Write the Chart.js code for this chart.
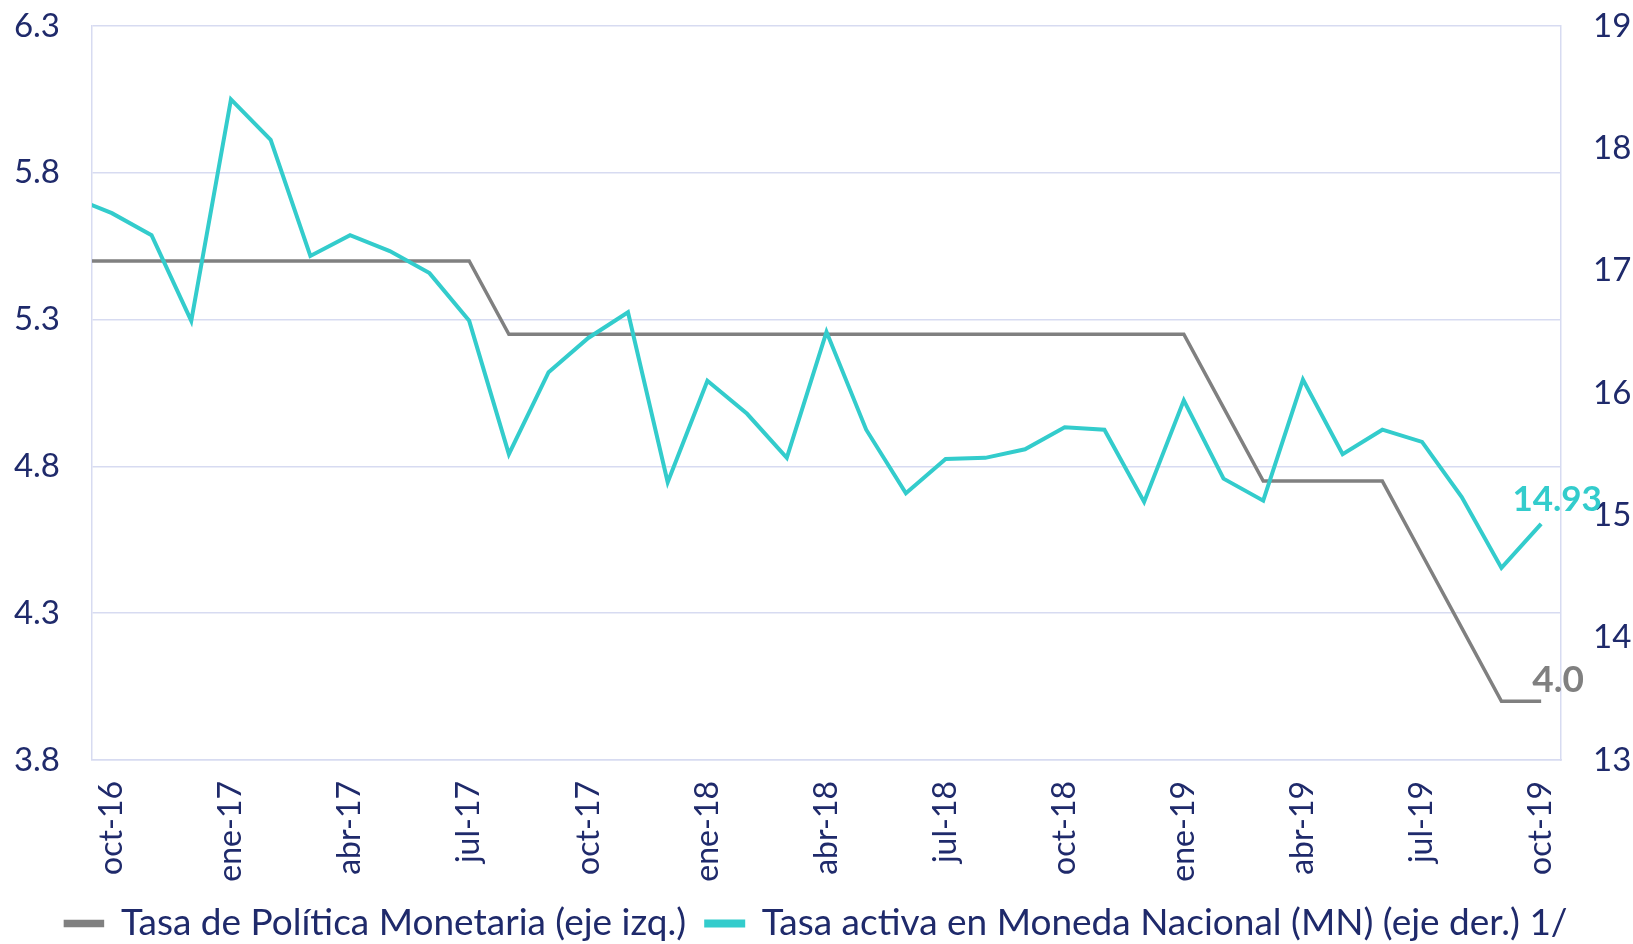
<!DOCTYPE html>
<html>
<head>
<meta charset="utf-8">
<script src="https://cdn.jsdelivr.net/npm/chart.js@4/dist/chart.umd.min.js"></script>
<style>
  html, body { margin: 0; padding: 0; background: #ffffff; }
  #wrap { width: 1633px; height: 944px; position: relative; }
</style>
</head>
<body>
<div id="wrap"><canvas id="tasasChart"></canvas></div>
<script>
(() => {
  "use strict";

  // sep-16 sits just left of the visible range so the lines reach the left edge
  const months = [
    "sep-16", "oct-16", "nov-16", "dic-16",
    "ene-17", "feb-17", "mar-17", "abr-17", "may-17", "jun-17",
    "jul-17", "ago-17", "sep-17", "oct-17", "nov-17", "dic-17",
    "ene-18", "feb-18", "mar-18", "abr-18", "may-18", "jun-18",
    "jul-18", "ago-18", "sep-18", "oct-18", "nov-18", "dic-18",
    "ene-19", "feb-19", "mar-19", "abr-19", "may-19", "jun-19",
    "jul-19", "ago-19", "sep-19", "oct-19"
  ];

  const tasaPolitica = [
    5.5, 5.5, 5.5, 5.5,
    5.5, 5.5, 5.5, 5.5, 5.5, 5.5,
    5.5, 5.25, 5.25, 5.25, 5.25, 5.25,
    5.25, 5.25, 5.25, 5.25, 5.25, 5.25,
    5.25, 5.25, 5.25, 5.25, 5.25, 5.25,
    5.25, 5.0, 4.75, 4.75, 4.75, 4.75,
    4.5, 4.25, 4.0, 4.0
  ];

  const tasaActivaMN = [
    17.60, 17.47, 17.29, 16.59,
    18.40, 18.07, 17.12, 17.29, 17.16, 16.98,
    16.59, 15.50, 16.17, 16.45, 16.66, 15.27,
    16.10, 15.83, 15.47, 16.50, 15.70, 15.18,
    15.46, 15.47, 15.54, 15.72, 15.70, 15.11,
    15.94, 15.30, 15.12, 16.11, 15.50, 15.70,
    15.60, 15.15, 14.57, 14.93
  ];

  const seriesNames = [
    "Tasa de Política Monetaria (eje izq.)",
    "Tasa activa en Moneda Nacional (MN) (eje der.) 1/"
  ];

  // months shown on the x axis (every quarter from oct-16)
  const xTickMonths = ["oct-16", "ene-17", "abr-17", "jul-17", "oct-17", "ene-18",
    "abr-18", "jul-18", "oct-18", "ene-19", "abr-19", "jul-19", "oct-19"];

  const leftTicks = { min: 3.8, max: 6.3, step: 0.5 };
  const rightTicks = { min: 13, max: 19, step: 1 };

  const GRAY = "#808080";
  const TEAL = "#33cccc";
  const NAVY = "#1f2a6b";
  const GRID = "#d7dbf1";
  const FONT = "Lato, 'Open Sans', sans-serif";

  // x index: oct-16 = 0
  const toPoints = (values) => values.map((v, i) => ({ x: i - 1, y: v }));
  const indexOf = (m) => months.indexOf(m) - 1;

  // keep tick padding from pushing the chart area inwards
  const noEdgePadding = (scale) => {
    scale.paddingTop = 0;
    scale.paddingBottom = 0;
    scale.paddingLeft = 0;
    scale.paddingRight = 0;
  };

  const lastValueLabels = {
    id: "lastValueLabels",
    afterDatasetsDraw(chart) {
      const { ctx } = chart;
      const specs = [
        { ds: 0, digits: 1, color: GRAY, dx: 17, dy: -21, size: 37 },
        { ds: 1, digits: 2, color: TEAL, dx: 16, dy: -24, size: 35 }
      ];
      ctx.save();
      ctx.textAlign = "center";
      ctx.textBaseline = "middle";
      specs.forEach((s) => {
        const meta = chart.getDatasetMeta(s.ds);
        const pt = meta.data[meta.data.length - 1];
        const data = chart.data.datasets[s.ds].data;
        const value = data[data.length - 1].y;
        ctx.font = `bold ${s.size}px ${FONT}`;
        ctx.fillStyle = s.color;
        ctx.fillText(value.toFixed(s.digits), pt.x + s.dx, pt.y + s.dy);
      });
      ctx.restore();
    }
  };

  const ctx = document.getElementById("tasasChart").getContext("2d");

  new Chart(ctx, {
    type: "line",
    data: {
      datasets: [
        {
          label: seriesNames[0],
          data: toPoints(tasaPolitica),
          yAxisID: "y",
          borderColor: GRAY,
          backgroundColor: GRAY,
          borderWidth: 3.5,
          pointRadius: 0,
          tension: 0,
          order: 1
        },
        {
          label: seriesNames[1],
          data: toPoints(tasaActivaMN),
          yAxisID: "y1",
          borderColor: TEAL,
          backgroundColor: TEAL,
          borderWidth: 4,
          pointRadius: 0,
          tension: 0,
          order: 0
        }
      ]
    },
    options: {
      responsive: true,
      maintainAspectRatio: false,
      animation: false,
      layout: { padding: { top: 26, left: 0, right: 0, bottom: -8 } },
      scales: {
        x: {
          type: "linear",
          min: -0.5,
          max: months.length - 1.5,
          grid: { display: false, drawTicks: false },
          border: { display: true, color: GRID, width: 1.5 },
          afterBuildTicks(scale) {
            scale.ticks = xTickMonths.map((m) => ({ value: indexOf(m) }));
          },
          afterFit(scale) {
            scale.height = 125;
            noEdgePadding(scale);
          },
          ticks: {
            autoSkip: false,
            minRotation: 90,
            maxRotation: 90,
            padding: 21,
            color: NAVY,
            font: { family: FONT, size: 32 },
            callback(value) {
              return months[Math.round(value) + 1] || "";
            }
          }
        },
        y: {
          position: "left",
          min: leftTicks.min,
          max: leftTicks.max,
          grid: { color: GRID, lineWidth: 1.5, drawTicks: false },
          border: { display: true, color: GRID, width: 1.5 },
          afterFit(scale) {
            scale.width = 92;
            noEdgePadding(scale);
          },
          ticks: {
            stepSize: leftTicks.step,
            padding: 32,
            color: NAVY,
            font: { family: FONT, size: 33 },
            callback(value) {
              return Number(value).toFixed(1);
            }
          }
        },
        y1: {
          position: "right",
          min: rightTicks.min,
          max: rightTicks.max,
          grid: { drawOnChartArea: false, drawTicks: false },
          border: { display: true, color: GRID, width: 1.5 },
          afterFit(scale) {
            scale.width = 72;
            noEdgePadding(scale);
          },
          ticks: {
            stepSize: rightTicks.step,
            padding: 32,
            color: NAVY,
            font: { family: FONT, size: 33 }
          }
        }
      },
      plugins: {
        legend: {
          position: "bottom",
          labels: {
            boxWidth: 37,
            boxHeight: 4,
            padding: 20,
            color: NAVY,
            font: { family: FONT, size: 37 },
            sort: (a, b) => a.datasetIndex - b.datasetIndex
          }
        },
        tooltip: { enabled: false }
      }
    },
    plugins: [lastValueLabels]
  });
})();
</script>
</body>
</html>
